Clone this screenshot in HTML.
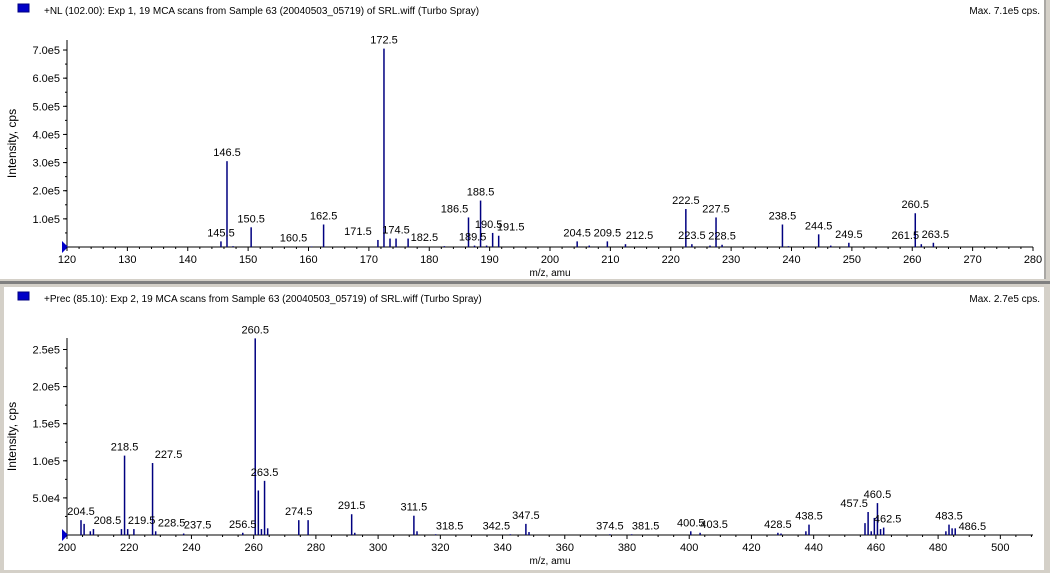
<!DOCTYPE html>
<html><head><meta charset="utf-8"><style>
body{margin:0;background:#d4d0c8;width:1050px;height:573px;overflow:hidden}
svg{display:block;font-family:"Liberation Sans",sans-serif}
</style></head><body>
<svg id="chart" width="1050" height="573" xmlns="http://www.w3.org/2000/svg">
<rect x="0" y="0" width="1050" height="573" fill="#d4d0c8"/>
<rect x="0" y="0" width="1044" height="279" fill="#fff"/>
<rect x="0" y="281" width="1050" height="3" fill="#808080"/>
<rect x="4" y="287" width="1040" height="283" fill="#fff"/>
<line x1="1045" y1="0" x2="1045" y2="279" stroke="#808080"/>
</svg>
<script>
const topMz=[145.5,146.5,147.5,150.5,160.5,162.5,171.5,172.5,173.5,174.5,176.5,182.5,186.5,187.5,188.5,189.5,190.5,191.5,204.5,206.5,209.5,212.5,222.5,223.5,226.5,227.5,228.5,238.5,239.5,244.5,246.5,249.5,260.5,261.5,263.5];
const topInt=[0.2,3.05,0.03,0.7,0.02,0.8,0.25,7.05,0.3,0.3,0.3,0.03,1.05,0.05,1.65,0.05,0.5,0.4,0.2,0.05,0.2,0.1,1.35,0.1,0.05,1.05,0.08,0.8,0.03,0.45,0.05,0.15,1.2,0.1,0.15];
const topLabels=[145.5,146.5,150.5,160.5,162.5,171.5,172.5,174.5,182.5,186.5,188.5,189.5,190.5,191.5,204.5,209.5,212.5,222.5,223.5,227.5,228.5,238.5,244.5,249.5,260.5,261.5,263.5];
const topLabelDx={160.5:-18,171.5:-20,182.5:-20,186.5:-14,189.5:-14,190.5:-4,191.5:12,212.5:14,223.5:0,228.5:0,261.5:-16,263.5:2};
const topTicks=[1,2,3,4,5,6,7];
const topTickLabels=["1.0e5","2.0e5","3.0e5","4.0e5","5.0e5","6.0e5","7.0e5"];

const botMz=[204.5,205.5,207.5,208.5,217.5,218.5,219.5,221.5,227.5,228.5,237.5,256.5,260.5,261.5,262.5,263.5,264.5,274.5,277.5,291.5,292.5,311.5,312.5,318.5,342.5,347.5,348.5,374.5,381.5,400.5,403.5,428.5,429.5,437.5,438.5,456.5,457.5,458.5,459.5,460.5,461.5,462.5,482.5,483.5,484.5,485.5];
const botInt=[2.0,1.5,0.5,0.8,0.8,10.7,0.8,0.8,9.7,0.5,0.2,0.3,26.5,6.0,0.8,7.3,0.9,2.0,2.0,2.8,0.3,2.6,0.5,0.1,0.1,1.5,0.4,0.1,0.1,0.5,0.3,0.3,0.2,0.5,1.4,1.6,3.1,0.5,2.3,4.3,0.8,1.0,0.5,1.4,0.9,0.9];
const botLabels=[204.5,208.5,218.5,219.5,227.5,228.5,237.5,256.5,260.5,263.5,274.5,291.5,311.5,318.5,342.5,347.5,374.5,381.5,400.5,403.5,428.5,438.5,457.5,460.5,462.5,483.5,486.5];
const botLabelDx={204.5:0,208.5:14,219.5:14,227.5:16,228.5:16,237.5:14,318.5:14,342.5:-14,381.5:14,403.5:14,457.5:-14,462.5:4,486.5:14};
const botTicks=[5,10,15,20,25];
const botTickLabels=["5.0e4","1.0e5","1.5e5","2.0e5","2.5e5"];

const NS="http://www.w3.org/2000/svg";
const svg=document.getElementById('chart');
function mk(t,a,txt){const e=document.createElementNS(NS,t);for(const k in a)e.setAttribute(k,a[k]);if(txt!=null)e.textContent=txt;svg.appendChild(e);return e;}

function panel(o){
  const X=v=>o.px0+(v-o.x0)*(o.px1-o.px0)/(o.x1-o.x0);
  const Y=v=>o.py0-v*o.ppu;
  // header
  const sw=mk('rect',{x:18,y:o.top+4,width:11,height:8,fill:'#0000c8',stroke:'#000080'});
  
  
  const tt=mk('text',{x:44,y:o.top+14,'font-size':10},o.title);
  
  
  const mx=mk('text',{x:1040,y:o.top+14,'font-size':10,'text-anchor':'end'},o.max);
  
  
  // axes
  const ax=mk('line',{x1:o.px0,y1:o.py0,x2:o.px1,y2:o.py0,stroke:'#000'});
  
  
  const ay=mk('line',{x1:o.px0,y1:o.py0,x2:o.px0,y2:o.ytop,stroke:'#000'});
  
  
  mk('path',{d:`M${o.px0-5},${o.py0-6}L${o.px0+1},${o.py0}L${o.px0-5},${o.py0+6}Z`,fill:'#0000c8'});
  for(let v=o.x0;v<=o.x1+1e-6;v+=o.minor){
    const major=Math.abs((v-o.x0)%o.major)<1e-6;
    mk('line',{x1:X(v),y1:o.py0,x2:X(v),y2:o.py0+(major?4:2),stroke:'#000'});
    if(major){const t=mk('text',{x:X(v),y:o.py0+16,'font-size':11,'text-anchor':'middle'},String(v));
      
      }
  }
  const step=o.yTicks[1]-o.yTicks[0];
  for(let v=step/2;v<=o.yTicks[o.yTicks.length-1]+1e-6;v+=step/2)
    mk('line',{x1:o.px0-2,y1:Y(v),x2:o.px0,y2:Y(v),stroke:'#000'});
  o.yTicks.forEach((v,i)=>{
    mk('line',{x1:o.px0-4,y1:Y(v),x2:o.px0,y2:Y(v),stroke:'#000'});
    const t=mk('text',{x:o.px0-7,y:Y(v)+4,'font-size':11,'text-anchor':'end'},o.yLabels[i]);
    
    
  });
  const yt=mk('text',{x:16,y:(o.py0+o.ytop)/2,'font-size':12,'text-anchor':'middle',transform:`rotate(-90 16 ${(o.py0+o.ytop)/2})`},'Intensity, cps');
  
  
  const xt=mk('text',{x:550,y:o.py0+29,'font-size':10,'text-anchor':'middle'},'m/z, amu');
  
  
  o.mz.forEach((m,i)=>{
    const b=mk('line',{x1:X(m),y1:o.py0,x2:X(m),y2:Y(o.int[i]),stroke:'#000080','stroke-width':1.5});
    
    
  });
  o.labels.forEach(m=>{
    const i=o.mz.indexOf(m);const h=i>=0?o.int[i]:0;
    const dx=o.dx[m]||0;
    const t=mk('text',{x:X(m)+dx,y:Y(h)-5,'font-size':11,'text-anchor':'middle'},m.toFixed(1));
    
    
  });
}
panel({name:'top',top:0,title:'+NL (102.00): Exp 1, 19 MCA scans from Sample 63 (20040503_05719) of SRL.wiff (Turbo Spray)',max:'Max. 7.1e5 cps.',
  x0:120,x1:280,px0:67,px1:1033,major:10,minor:2,py0:247,ppu:28.14,ytop:40,
  mz:topMz,int:topInt,labels:topLabels,dx:topLabelDx,yTicks:topTicks,yLabels:topTickLabels});
panel({name:'bottom',top:288,title:'+Prec (85.10): Exp 2, 19 MCA scans from Sample 63 (20040503_05719) of SRL.wiff (Turbo Spray)',max:'Max. 2.7e5 cps.',
  x0:200,x1:510.5,px0:67,px1:1033,major:20,minor:5,py0:535,ppu:7.42,ytop:338,
  mz:botMz,int:botInt,labels:botLabels,dx:botLabelDx,yTicks:botTicks,yLabels:botTickLabels});
</script>
</body></html>
